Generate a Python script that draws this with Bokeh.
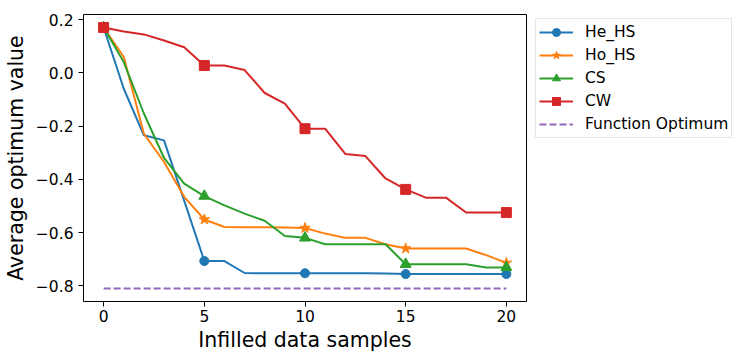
from bokeh.plotting import figure
from bokeh.models import Range1d, FixedTicker, Legend, CustomJSTickFormatter
from bokeh.embed import file_html
from bokeh.resources import INLINE

# ---- data ----
x = list(range(21))
he_hs = [0.17, -0.06, -0.235, -0.254, -0.48, -0.707, -0.707, -0.752, -0.753, -0.753,
         -0.753, -0.753, -0.753, -0.753, -0.754, -0.756, -0.756, -0.756, -0.756, -0.756, -0.756]
ho_hs = [0.17, 0.059, -0.229, -0.335, -0.466, -0.551, -0.579, -0.58, -0.58, -0.581,
         -0.583, -0.604, -0.62, -0.62, -0.644, -0.66, -0.66, -0.66, -0.66, -0.685, -0.714]
cs = [0.17, 0.04, -0.153, -0.32, -0.416, -0.463, -0.498, -0.529, -0.556, -0.613,
      -0.62, -0.644, -0.644, -0.644, -0.644, -0.719, -0.719, -0.719, -0.719, -0.731, -0.731]
cw = [0.17, 0.155, 0.144, 0.121, 0.096, 0.027, 0.027, 0.01, -0.076, -0.116,
      -0.21, -0.21, -0.305, -0.313, -0.397, -0.438, -0.469, -0.469, -0.525, -0.525, -0.525]
optimum = -0.81
mark_every = 5

x_ticks = [0, 5, 10, 15, 20]
y_ticks = [-0.8, -0.6, -0.4, -0.2, 0.0, 0.2]
y_tick_labels = ["\u22120.8", "\u22120.6", "\u22120.4", "\u22120.2", "0.0", "0.2"]

series = [
    ("He_HS", he_hs, "#1f77b4", "circle", 9),
    ("Ho_HS", ho_hs, "#ff7f0e", "star", 11),
    ("CS", cs, "#2ca02c", "triangle", 11),
    ("CW", cw, "#d62728", "square", 10),
]

FONT = "DejaVu Sans"

p = figure(frame_width=443, frame_height=287, output_backend="svg", toolbar_location=None,
           x_range=Range1d(-1, 21), y_range=Range1d(-0.859, 0.2188),
           min_border_left=82, min_border_right=0, min_border_top=14,
           min_border_bottom=52)
p.xgrid.visible = False
p.ygrid.visible = False
p.outline_line_color = "black"
p.outline_line_width = 1
p.outline_line_alpha = 1

p.xaxis.ticker = FixedTicker(ticks=x_ticks)
p.yaxis.ticker = FixedTicker(ticks=y_ticks)
p.yaxis.formatter = CustomJSTickFormatter(
    args=dict(tvals=y_ticks, tlabels=y_tick_labels),
    code="""
    for (let i = 0; i < tvals.length; i++) {
        if (Math.abs(tvals[i] - tick) < 1e-9) { return tlabels[i]; }
    }
    return tick.toFixed(1);
    """)
for ax in (p.xaxis[0], p.yaxis[0]):
    ax.axis_line_color = None
    ax.major_tick_in = 0
    ax.major_tick_out = 5
    ax.major_tick_line_color = "black"
    ax.minor_tick_line_color = None
    ax.major_label_text_font = FONT
    ax.major_label_text_font_size = "15.5px"
    ax.major_label_text_color = "black"
    ax.axis_label_text_font = FONT
    ax.axis_label_text_font_size = "20.5px"
    ax.axis_label_text_font_style = "normal"
    ax.axis_label_text_color = "black"
p.xaxis.axis_label = "Infilled data samples"
p.yaxis.axis_label = "Average optimum value"
p.yaxis.major_label_standoff = 5
p.xaxis.major_label_standoff = 3
p.yaxis.axis_label_standoff = 5
p.xaxis.axis_label_standoff = 3

items = []
for name, ys, color, marker, size in series:
    r1 = p.line(x, ys, line_color=color, line_width=2)
    r2 = p.scatter(x[::mark_every], ys[::mark_every], marker=marker, size=size,
                   fill_color=color, line_color=color)
    items.append((name, [r1, r2]))

opt_line = p.line([x[0], x[-1]], [optimum, optimum], line_color="#9467bd",
                  line_width=2, line_dash="7 3")
items.append(("Function Optimum", [opt_line]))

legend = Legend(items=items, location=(9, 163))
legend.label_text_font = FONT
legend.label_text_font_size = "15.5px"
legend.label_text_color = "black"
legend.glyph_width = 34
legend.glyph_height = 20
legend.label_height = 20
legend.label_standoff = 12
legend.spacing = 3
legend.padding = 3
legend.margin = 0
legend.border_line_color = "#cccccc"
legend.border_line_width = 1
legend.background_fill_alpha = 0.8
p.add_layout(legend, "right")

open("out.html", "w").write(file_html(p, INLINE))
